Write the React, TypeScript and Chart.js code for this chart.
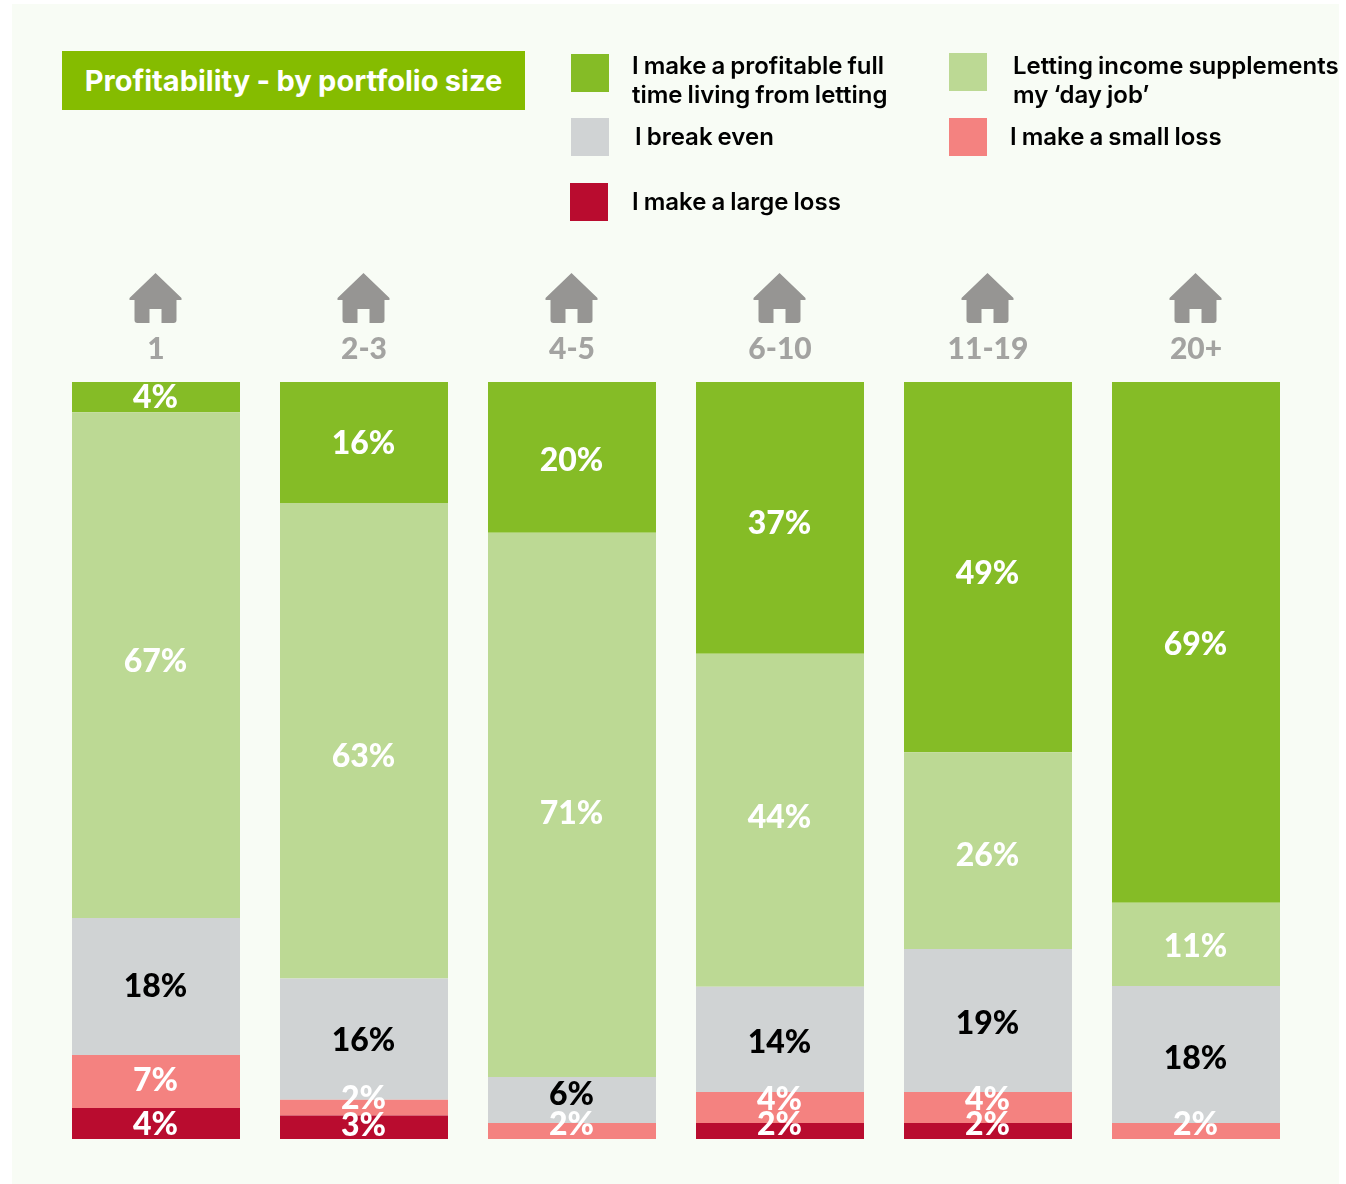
import React, { useEffect, useRef } from "react";
import { Chart, registerables } from "chart.js";

Chart.register(...registerables);

const categories = ["1", "2-3", "4-5", "6-10", "11-19", "20+"];

// Segment sizes (share of the bar, %), bottom segment first in the stack.
const largeLoss = [4.1, 3.1, 0, 2.1, 2.1, 0];
const smallLoss = [7, 2.1, 2.1, 4.1, 4.1, 2.1];
const breakEven = [18.1, 16, 6.1, 13.9, 18.9, 18.1];
const supplements = [66.8, 62.8, 71.9, 44, 26, 11];
const fullTime = [4, 16, 19.9, 35.9, 48.9, 68.8];

// Percentages printed on the segments
const largeLossText = ["4%", "3%", null, "2%", "2%", null];
const smallLossText = ["7%", "2%", "2%", "4%", "4%", "2%"];
const breakEvenText = ["18%", "16%", "6%", "14%", "19%", "18%"];
const supplementsText = ["67%", "63%", "71%", "44%", "26%", "11%"];
const fullTimeText = ["4%", "16%", "20%", "37%", "49%", "69%"];

const titleText = "Profitability - by portfolio size";
const FONT = "Inter, 'Noto Sans', sans-serif";
const NUM_FONT = "Lato, Inter, sans-serif";

const series = [
  { label: "I make a large loss", data: largeLoss, text: largeLossText, color: "#b90c2f", ink: "#ffffff", shift: [1, -2, 0, -6, -6, 0] },
  { label: "I make a small loss", data: smallLoss, text: smallLossText, color: "#f48280", ink: "#ffffff", shift: [-1, -9, -6, -8, -8, -6] },
  { label: "I break even", data: breakEven, text: breakEvenText, color: "#d0d3d4", ink: "#000000", shift: [0, 2, -5, 3, 3, 4] },
  { label: "Letting income supplements my ‘day job’", data: supplements, text: supplementsText, color: "#bcd994", ink: "#ffffff", shift: [-3, 16, 9, -3, 5, 2] },
  { label: "I make a profitable full time living from letting", data: fullTime, text: fullTimeText, color: "#85bc26", ink: "#ffffff", shift: [1, 1, 3, 6, 7, 2] },
];

const legendItems = [
  { color: "#85bc26", box: [571, 54], text: ["I make a profitable full", "time living from letting"], at: [632, 51] },
  { color: "#bcd994", box: [949, 53], text: ["Letting income supplements", "my ‘day job’"], at: [1013, 51] },
  { color: "#d0d3d4", box: [571, 118], text: ["I break even"], at: [635, 122] },
  { color: "#f48280", box: [949, 118], text: ["I make a small loss"], at: [1010, 122] },
  { color: "#b90c2f", box: [570, 183], text: ["I make a large loss"], at: [632, 187] },
];

const housePlugin = {
  id: "houses",
  afterDraw(chart: any) {
    const { ctx, scales } = chart;
    ctx.save();
    ctx.fillStyle = "#969593";
    categories.forEach((_, i) => {
      const c = scales.x.getPixelForValue(i) - 0.5;
      const t = 273;
      ctx.beginPath();
      ctx.moveTo(c, t);
      ctx.lineTo(c + 26, t + 25);
      ctx.lineTo(c + 26, t + 27);
      ctx.lineTo(c + 21, t + 27);
      ctx.lineTo(c + 21, t + 47);
      ctx.quadraticCurveTo(c + 21, t + 50, c + 18, t + 50);
      ctx.lineTo(c + 6, t + 50);
      ctx.lineTo(c + 6, t + 36);
      ctx.lineTo(c - 6, t + 36);
      ctx.lineTo(c - 6, t + 50);
      ctx.lineTo(c - 18, t + 50);
      ctx.quadraticCurveTo(c - 21, t + 50, c - 21, t + 47);
      ctx.lineTo(c - 21, t + 27);
      ctx.lineTo(c - 26, t + 27);
      ctx.lineTo(c - 26, t + 25);
      ctx.closePath();
      ctx.fill();
    });
    ctx.restore();
  },
};

const segmentLabelPlugin = {
  id: "segmentLabels",
  afterDatasetsDraw(chart: any) {
    const { ctx } = chart;
    ctx.save();
    ctx.font = `900 32px ${NUM_FONT}`;
    ctx.textAlign = "center";
    ctx.textBaseline = "middle";
    series.forEach((s, di) => {
      const meta = chart.getDatasetMeta(di);
      s.text.forEach((t, i) => {
        if (!t) return;
        const bar = meta.data[i];
        ctx.fillStyle = s.ink;
        ctx.fillText(t, bar.x - 0.5, (bar.y + bar.base) / 2 + s.shift[i]);
      });
    });
    ctx.restore();
  },
};

export default function App() {
  const ref = useRef<HTMLCanvasElement>(null);

  useEffect(() => {
    const chart = new Chart(ref.current as HTMLCanvasElement, {
      type: "bar",
      data: {
        labels: categories,
        datasets: series.map((s) => ({
          label: s.label,
          data: s.data,
          backgroundColor: s.color,
          borderWidth: 0,
          barPercentage: 168 / 208,
          categoryPercentage: 1,
        })),
      },
      options: {
        animation: false,
        responsive: false,
        maintainAspectRatio: false,
        layout: { padding: { left: 52, right: 46, top: 0, bottom: 45 } },
        plugins: { legend: { display: false }, tooltip: { enabled: false }, title: { display: false } },
        scales: {
          x: {
            stacked: true,
            position: "top",
            border: { display: false },
            grid: { display: false, drawTicks: false },
            ticks: { color: "#a3a3a1", font: { family: NUM_FONT, size: 30, weight: 900 }, padding: 15, maxRotation: 0 },
            afterFit(scale: any) {
              scale.height = 382;
            },
          },
          y: { stacked: true, display: false, min: 0, max: 100 },
        },
      },
      plugins: [housePlugin, segmentLabelPlugin],
    } as any);
    return () => chart.destroy();
  }, []);

  const abs: React.CSSProperties = { position: "absolute" };
  return (
    <div style={{ ...abs, left: 0, top: 0, width: 1346, height: 1184, background: "#fff", overflow: "hidden", fontFamily: FONT }}>
      <div style={{ ...abs, left: 12, top: 4, width: 1327, height: 1180, background: "#f8fcf5" }} />
      <canvas ref={ref} width={1346} height={1184} style={{ ...abs, left: 0, top: 0, width: 1346, height: 1184 }} />
      <div style={{ ...abs, left: 62, top: 51, width: 463, height: 59, background: "#85bc00", color: "#fff", fontWeight: 700, fontSize: 29, lineHeight: "59px", textAlign: "center", whiteSpace: "nowrap", wordSpacing: -0.5 }}>
        {titleText}
      </div>
      {legendItems.map((l) => (
        <React.Fragment key={l.text[0]}>
          <div style={{ ...abs, left: l.box[0], top: l.box[1], width: 38, height: 38, background: l.color }} />
          <div style={{ ...abs, left: l.at[0], top: l.at[1], color: "#000", fontWeight: 600, fontSize: 24, lineHeight: "29px", whiteSpace: "nowrap", wordSpacing: -1 }}>
            {l.text.map((t) => (
              <div key={t}>{t}</div>
            ))}
          </div>
        </React.Fragment>
      ))}
    </div>
  );
}
